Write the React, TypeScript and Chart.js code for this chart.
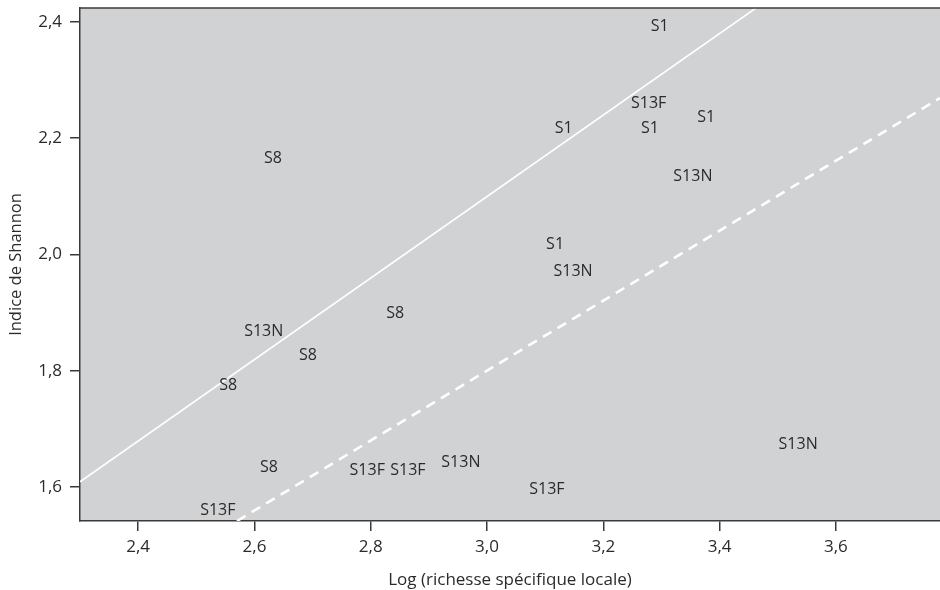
import React, { useEffect, useRef } from "react";
import { Chart, registerables } from "chart.js";

Chart.register(...registerables);

// ---- data ----
const s1X = [3.297, 3.28, 3.377, 3.132, 3.117];
const s1Y = [2.393, 2.216, 2.235, 2.216, 2.018];
const s13fX = [3.278, 2.537, 2.794, 2.864, 3.103];
const s13fY = [2.259, 1.56, 1.628, 1.629, 1.595];
const s13nX = [3.354, 3.148, 2.616, 2.955, 3.535];
const s13nY = [2.135, 1.97, 1.868, 1.643, 1.674];
const s8X = [2.632, 2.842, 2.692, 2.555, 2.625];
const s8Y = [2.166, 1.899, 1.827, 1.775, 1.634];

const solidLineX = [2.3, 3.4625];
const solidLineY = [1.609, 2.424];
const dashedLineX = [2.57, 3.779];
const dashedLineY = [1.5415, 2.269];

const xTicks = [2.4, 2.6, 2.8, 3.0, 3.2, 3.4, 3.6];
const yTicks = [1.6, 1.8, 2.0, 2.2, 2.4];
const xRange = [2.3, 3.779];
const yRange = [1.5415, 2.424];

const xTitle = "Log (richesse spécifique locale)";
const yTitle = "Indice de Shannon";

const zip = (xs: number[], ys: number[]) => xs.map((x, i) => ({ x, y: ys[i] }));

const FONT = "'Open Sans', 'Noto Sans', sans-serif";
const TEXT = "#2b2b2b";
const AXIS = "#3a3a3a";

const bgPlugin = {
  id: "bgPlugin",
  beforeDraw(chart: any) {
    const { ctx, chartArea } = chart;
    ctx.save();
    ctx.fillStyle = "#d1d2d4";
    ctx.fillRect(chartArea.left, chartArea.top, chartArea.right - chartArea.left, chartArea.bottom - chartArea.top);
    ctx.restore();
  },
  afterDraw(chart: any) {
    const { ctx, chartArea } = chart;
    ctx.save();
    ctx.strokeStyle = AXIS;
    ctx.lineWidth = 1.5;
    ctx.beginPath();
    ctx.moveTo(chartArea.left, chartArea.top);
    ctx.lineTo(chartArea.right, chartArea.top);
    ctx.stroke();
    ctx.restore();
  },
};

const textPointPlugin = {
  id: "textPoints",
  afterDatasetsDraw(chart: any) {
    const { ctx } = chart;
    ctx.save();
    ctx.fillStyle = TEXT;
    ctx.font = `16px ${FONT}`;
    ctx.textAlign = "center";
    ctx.textBaseline = "middle";
    chart.data.datasets.forEach((ds: any, i: number) => {
      if (!ds.textLabel) return;
      const meta = chart.getDatasetMeta(i);
      meta.data.forEach((el: any) => {
        ctx.fillText(ds.textLabel, el.x, el.y);
      });
    });
    ctx.restore();
  },
};

export default function App() {
  const ref = useRef<HTMLCanvasElement | null>(null);

  useEffect(() => {
    if (!ref.current) return;
    const fmt = (v: any) => Number(v).toFixed(1).replace(".", ",");
    const textDs = (label: string, xs: number[], ys: number[]) => ({
      type: "scatter" as const,
      label,
      textLabel: label,
      data: zip(xs, ys),
      pointRadius: 0,
      pointHoverRadius: 0,
      showLine: false,
    });
    const chart = new Chart(ref.current, {
      type: "scatter",
      data: {
        datasets: [
          {
            type: "line",
            label: "solid",
            data: zip(solidLineX, solidLineY),
            borderColor: "#ffffff",
            borderWidth: 1.6,
            pointRadius: 0,
            fill: false,
          } as any,
          {
            type: "line",
            label: "dashed",
            data: zip(dashedLineX, dashedLineY),
            borderColor: "#ffffff",
            borderWidth: 2.6,
            borderDash: [10, 7],
            pointRadius: 0,
            fill: false,
          } as any,
          textDs("S1", s1X, s1Y),
          textDs("S13F", s13fX, s13fY),
          textDs("S13N", s13nX, s13nY),
          textDs("S8", s8X, s8Y),
        ],
      },
      options: {
        animation: false,
        responsive: true,
        maintainAspectRatio: false,
        layout: { padding: { top: 8, right: 0, left: 0, bottom: 0 } },
        plugins: { legend: { display: false }, tooltip: { enabled: false } },
        scales: {
          x: {
            type: "linear",
            min: xRange[0],
            max: xRange[1],
            afterBuildTicks: (s: any) => {
              s.ticks = xTicks.map((v) => ({ value: v }));
            },
            afterFit: (s: any) => {
              s.height = 69;
              s.paddingLeft = 0;
              s.paddingRight = 0;
            },
            grid: { drawOnChartArea: false, drawTicks: true, tickLength: 10, color: AXIS, lineWidth: 1.5 },
            border: { display: true, color: AXIS, width: 1.5 },
            ticks: { color: TEXT, font: { family: FONT, size: 17 }, padding: 6, callback: fmt, maxRotation: 0 },
            title: { display: true, text: xTitle, color: TEXT, font: { family: FONT, size: 17 }, padding: { top: 0, bottom: 0 } },
          },
          y: {
            type: "linear",
            min: yRange[0],
            max: yRange[1],
            afterBuildTicks: (s: any) => {
              s.ticks = yTicks.map((v) => ({ value: v }));
            },
            afterFit: (s: any) => {
              s.width = 80;
              s.paddingTop = 0;
              s.paddingBottom = 0;
            },
            grid: { drawOnChartArea: false, drawTicks: true, tickLength: 10, color: AXIS, lineWidth: 1.5 },
            border: { display: true, color: AXIS, width: 1.5 },
            ticks: { color: TEXT, font: { family: FONT, size: 17 }, padding: 8, callback: fmt },
            title: { display: true, text: yTitle, color: TEXT, font: { family: FONT, size: 16.5 }, padding: { top: 6, bottom: 0 } },
          },
        },
      } as any,
      plugins: [bgPlugin, textPointPlugin],
    });
    return () => chart.destroy();
  }, []);

  return (
    <div style={{ position: "absolute", left: 0, top: 0, width: 940, height: 590, background: "#fff" }}>
      <canvas ref={ref} />
    </div>
  );
}
